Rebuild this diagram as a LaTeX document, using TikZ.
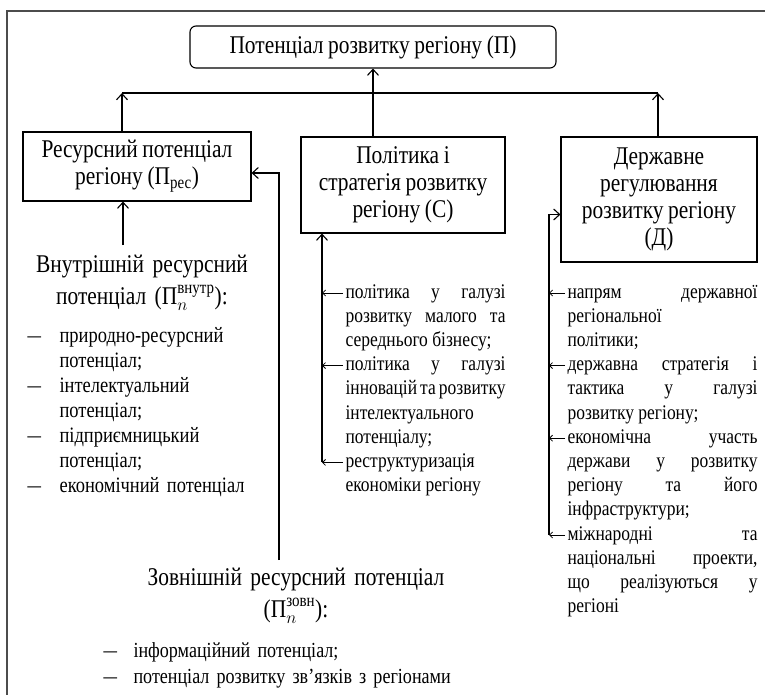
\documentclass[tikz,border=0pt]{standalone}
\usepackage{amsmath}
\usepackage{graphicx}
\usepackage{fontspec}
\setmainfont{Liberation Serif}[FakeStretch=0.84]
\usetikzlibrary{arrows.meta}
\newcommand{\longdash}{\scalebox{1.45}[1]{–}}
\newcommand{\tightsp}{\spaceskip=0.18em plus 0.1em minus 0.04em\relax}
\begin{document}
\begin{tikzpicture}[x=1pt,y=-1pt,line width=1.1pt,
  bigfont/.style={font=\fontsize{25.5}{27}\selectfont\tightsp},
  box/.style={draw,bigfont,align=center,inner sep=0pt},
  head/.style={bigfont,align=center,inner sep=0pt,anchor=base,text width=300pt},
  item/.style={font=\fontsize{20.8}{24.2}\selectfont,inner sep=0pt,align=justify,anchor=base west},
  litem/.style={font=\fontsize{22}{25}\selectfont\tightsp,inner sep=0pt,align=left,anchor=base west,text width=230pt},
  bitem/.style={litem,font=\fontsize{21.5}{26}\selectfont\tightsp,text width=330pt},
  dashmark/.style={font=\fontsize{22}{25}\selectfont,inner sep=0pt,anchor=base west},
  arr/.style={-{Straight Barb[length=6pt,width=11pt]}},
  sarr/.style={line width=0.8pt,-{Straight Barb[length=3pt,width=6pt]}}]
\useasboundingbox (0,0) rectangle (765,695);
\draw[line width=1.5pt,black!70] (7,700) -- (7,11) -- (770,11);

% main boxes
\node[box,rounded corners=6pt,minimum width=366pt,minimum height=42pt] (P) at (373,47) {Потенціал розвитку регіону (П)};
\node[box,minimum width=228pt,minimum height=69pt] (R) at (137,166.5) {Ресурсний потенціал\\регіону (П\textsubscript{рес})};
\node[box,minimum width=204pt,minimum height=96pt] (S) at (403,185) {Політика і\\стратегія розвитку\\регіону (С)};
\node[box,minimum width=196pt,minimum height=125pt] (D) at (659,199.5) {Державне\\регулювання\\розвитку регіону\\(Д)};

% top connectors
\coordinate (hl) at (122,93);
\coordinate (hr) at (658,93);
\draw (hl) -- (hr);
\draw[arr] (R.north -| hl) -- (hl);
\draw[arr] (D.north -| hr) -- (hr);
\draw[arr] (S.north -| P.south) -- (P.south);

% internal potential
\node[head] (V) at (142,272) {Внутрішній ресурсний\\[5pt]потенціал ($\text{П}_{n}^{\text{внутр}}$):};
\coordinate (vt) at (123,245);
\draw[arr] (vt) -- (R.south -| vt);

\node[dashmark] (l1d) at (27,342) {\longdash};
\node[litem] (l1) at (59,342) {природно-ресурсний\\потенціал;};
\node[dashmark] (l2d) at (27,392) {\longdash};
\node[litem] (l2) at (59,392) {інтелектуальний\\потенціал;};
\node[dashmark] (l3d) at (27,442) {\longdash};
\node[litem] (l3) at (59,442) {підприємницький\\потенціал;};
\node[dashmark] (l4d) at (27,492) {\longdash};
\node[litem] (l4) at (59,492) {економічний потенціал};

% external potential
\node[head] (Z) at (296,585) {Зовнішній ресурсний потенціал\\[5pt]($\text{П}_{n}^{\text{зовн}}$):};
\coordinate (zt) at (279,560);
\coordinate (rin) at ([yshift=-6.5pt]R.east);
\draw[arr] (zt) |- (rin);

\node[dashmark] (b1d) at (103,657) {\longdash};
\node[bitem] (b1) at (133,657) {інформаційний потенціал;};
\node[dashmark] (b2d) at (103,683) {\longdash};
\node[bitem] (b2) at (133,683) {потенціал розвитку зв’язків з регіонами};

% policy column
\node[item,text width=160pt] (m1) at (345,298) {політика у галузі\linebreak розвитку малого та\linebreak середнього бізнесу;};
\node[item,text width=160pt] (m2) at (345,370.6) {політика у галузі\linebreak інновацій та розвитку\\інтелектуального\\потенціалу;};
\node[item,text width=160pt] (m3) at (345,467.4) {реструктуризація\\економіки регіону};
\coordinate (mx) at (322,0);
\coordinate (m1a) at ([yshift=5pt]m1.base west);
\coordinate (m2a) at ([yshift=5pt]m2.base west);
\coordinate (m3a) at ([yshift=5pt]m3.base west);
\draw[arr] (m3a -| mx) -- (S.south -| mx);
\draw[sarr] ([xshift=-2pt]m1a) -- (m1a -| mx);
\draw[sarr] ([xshift=-2pt]m2a) -- (m2a -| mx);
\draw[sarr] ([xshift=-2pt]m3a) -- (m3a -| mx);

% regulation column
\node[item,text width=190pt] (r1) at (567,298) {напрям державної\linebreak регіональної\\політики;};
\node[item,text width=190pt] (r2) at (567,370.6) {державна стратегія і\linebreak тактика у галузі\linebreak розвитку регіону;};
\node[item,text width=190pt] (r3) at (567,443.2) {економічна участь\linebreak держави у розвитку\linebreak регіону та його\linebreak інфраструктури;};
\node[item,text width=190pt] (r4) at (567,540) {міжнародні та\linebreak національні проекти,\linebreak що реалізуються у\linebreak регіоні};
\coordinate (dx) at (549,0);
\coordinate (din) at ([yshift=-15pt]D.west);
\coordinate (r1a) at ([yshift=5pt]r1.base west);
\coordinate (r2a) at ([yshift=5pt]r2.base west);
\coordinate (r3a) at ([yshift=5pt]r3.base west);
\coordinate (r4a) at ([yshift=5pt]r4.base west);
\draw[arr] (r4a -| dx) |- (din);
\draw[sarr] ([xshift=-2pt]r1a) -- (r1a -| dx);
\draw[sarr] ([xshift=-2pt]r2a) -- (r2a -| dx);
\draw[sarr] ([xshift=-2pt]r3a) -- (r3a -| dx);
\draw[sarr] ([xshift=-2pt]r4a) -- (r4a -| dx);
\end{tikzpicture}
\end{document}
